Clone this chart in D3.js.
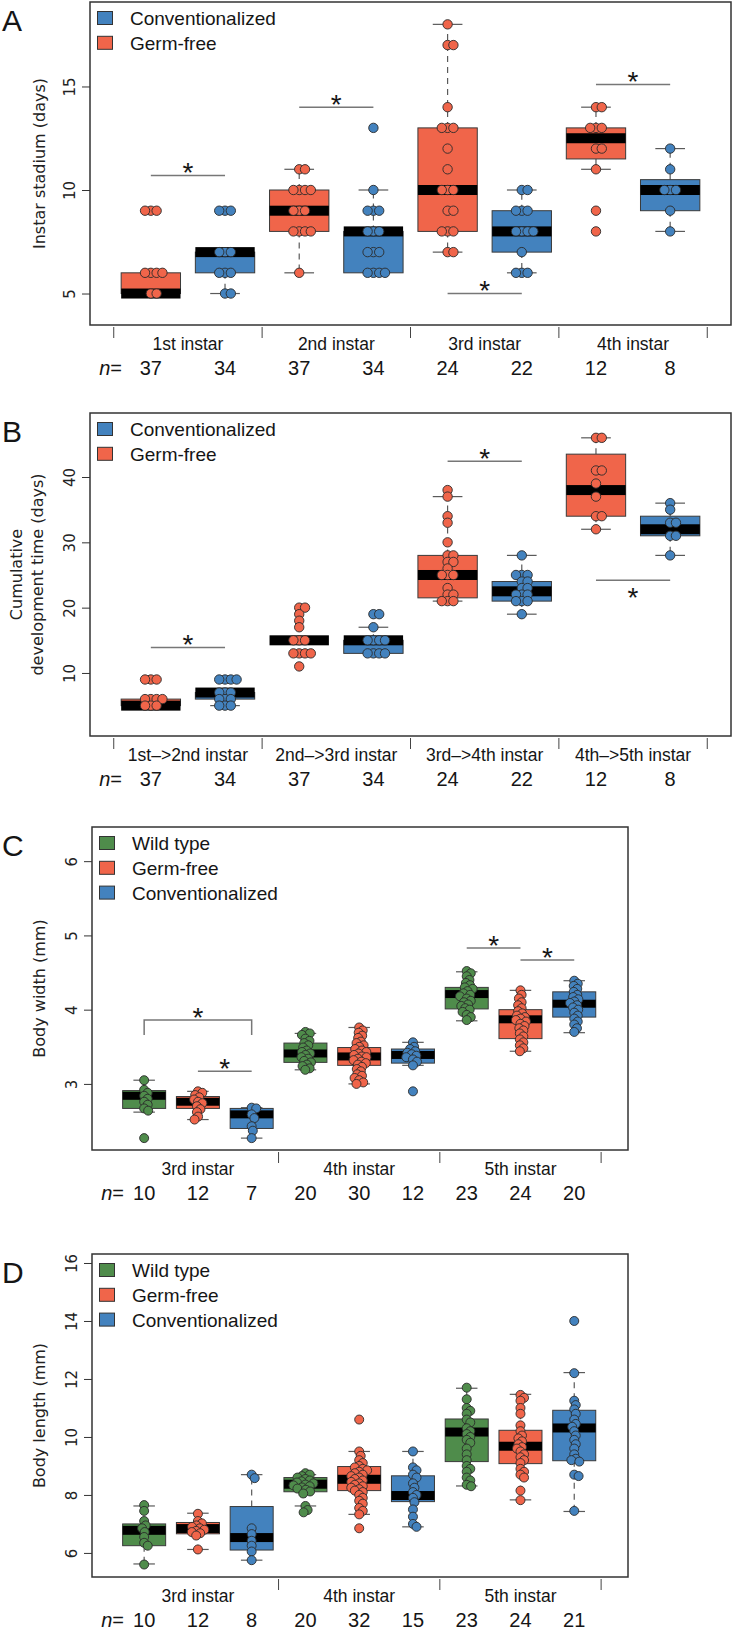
<!DOCTYPE html>
<html>
<head>
<meta charset="utf-8">
<script src="https://cdn.jsdelivr.net/npm/d3@7"></script>
<style>
  body { margin: 0; background: #fff; }
  svg { display: block; }
  .lbl { font-family: 'Liberation Sans', Arial, sans-serif; fill: #151515; }
  .ax { font-family: 'DejaVu Sans', sans-serif; fill: #222; }
</style>
</head>
<body>
<svg id="chart" width="733" height="1630"></svg>
<script>
var colors = {wt: '#4f8c4b', gf: '#f0654a', conv: '#4382be'};
var names = {wt: 'Wild type', gf: 'Germ-free', conv: 'Conventionalized'};

// Panel A - instar stadium
var catsA = ['1st instar', '2nd instar', '3rd instar', '4th instar'];
var groupsA = ['gf', 'conv', 'gf', 'conv', 'gf', 'conv', 'gf', 'conv'];
var nA = [37, 34, 37, 34, 24, 22, 12, 8];
// [lower whisker, q1, median, q3, upper whisker]
var statsA = [
  [5, 5, 5, 6, 6], [5, 6, 7, 7, 7],
  [6, 8, 9, 10, 11], [6, 6, 8, 8, 10],
  [7, 8, 10, 13, 18], [6, 7, 8, 9, 10],
  [11, 11.5, 12.5, 13, 14], [8, 9, 10, 10.5, 12]
];
var pointsA = [
  [9, 9, 9, 6, 6, 6, 6, 5, 5],
  [9, 9, 9, 7, 7, 7, 6, 6, 6, 5, 5],
  [11, 11, 10, 10, 10, 10, 9, 9, 9, 8, 8, 8, 8, 6],
  [13, 10, 9, 9, 9, 8, 8, 8, 7, 7, 7, 6, 6, 6, 6],
  [18, 17, 17, 14, 13, 13, 13, 12, 11, 10, 10, 10, 9, 9, 8, 8, 8, 7, 7],
  [10, 10, 9, 9, 9, 8, 8, 8, 8, 7, 6, 6, 6],
  [14, 14, 13, 13, 13, 12, 12, 11, 9, 8],
  [12, 11, 10, 10, 10, 9, 8]
];
var sigA = [
  {from: 1, to: 2, y: 10.7, star: 'above'},
  {from: 3, to: 4, y: 14, star: 'above'},
  {from: 5, to: 6, y: 5.0, star: 'above'},
  {from: 7, to: 8, y: 15.1, star: 'above'}
];

// Panel B - cumulative development time
var catsB = ['1st\u2013>2nd instar', '2nd\u2013>3rd instar', '3rd\u2013>4th instar', '4th\u2013>5th instar'];
var groupsB = ['gf', 'conv', 'gf', 'conv', 'gf', 'conv', 'gf', 'conv'];
var nB = [37, 34, 37, 34, 24, 22, 12, 8];
var statsB = [
  [5, 5, 5, 6, 6], [5, 6, 7, 7, 7],
  [15, 15, 15, 15, 15], [13, 13, 15, 15, 17],
  [21, 21.5, 25, 28, 37], [19, 21, 22.5, 24, 28],
  [32, 34, 38, 43.5, 46], [28, 31, 32, 34, 36]
];
var pointsB = [
  [9, 9, 9, 6, 6, 6, 6, 5, 5, 5],
  [9, 9, 9, 9, 7, 7, 7, 6, 6, 6, 5, 5, 5],
  [20, 20, 19, 18, 17, 15, 15, 15, 13, 13, 13, 13, 11],
  [19, 19, 17, 15, 15, 15, 15, 13, 13, 13, 13],
  [38, 37, 34, 33, 30, 28, 28, 27, 27, 26, 25, 25, 25, 23, 22, 22, 21, 21, 21],
  [28, 25, 25, 25, 24, 24, 23, 23, 22, 22, 22, 21, 21, 21, 19],
  [46, 46, 41, 41, 39, 37, 34, 34, 32],
  [36, 35, 33, 33, 31, 31, 28]
];
var sigB = [
  {from: 1, to: 2, y: 13.9, star: 'above'},
  {from: 5, to: 6, y: 42.4, star: 'above'},
  {from: 7, to: 8, y: 24.2, star: 'below'}
];

// Panel C - body width
var catsC = ['3rd instar', '4th instar', '5th instar'];
var groupsC = ['wt', 'gf', 'conv', 'wt', 'gf', 'conv', 'wt', 'gf', 'conv'];
var nC = [10, 12, 7, 20, 30, 12, 23, 24, 20];
var statsC = [
  [2.62, 2.67, 2.84, 2.91, 3.05], [2.52, 2.67, 2.76, 2.83, 2.9], [2.27, 2.4, 2.59, 2.67, 2.68],
  [3.19, 3.29, 3.41, 3.55, 3.68], [3.0, 3.25, 3.37, 3.49, 3.76], [3.25, 3.28, 3.39, 3.47, 3.56],
  [3.85, 4.01, 4.21, 4.3, 4.51], [3.44, 3.61, 3.87, 4.0, 4.26], [3.69, 3.9, 4.08, 4.24, 4.39]
];
var pointsC = [
  [3.05, 2.92, 2.88, 2.84, 2.8, 2.76, 2.72, 2.67, 2.64, 2.27],
  [2.9, 2.88, 2.85, 2.82, 2.79, 2.76, 2.74, 2.7, 2.66, 2.62, 2.56, 2.52],
  [2.68, 2.67, 2.59, 2.54, 2.43, 2.37, 2.27],
  [3.7, 3.68, 3.66, 3.61, 3.58, 3.55, 3.52, 3.49, 3.45, 3.43, 3.41, 3.39, 3.36, 3.34, 3.31, 3.29, 3.26, 3.24, 3.21, 3.19],
  [3.76, 3.72, 3.69, 3.65, 3.62, 3.57, 3.55, 3.52, 3.5, 3.47, 3.45, 3.43, 3.41, 3.39, 3.37, 3.36, 3.34, 3.32, 3.3, 3.28,
   3.26, 3.23, 3.2, 3.17, 3.13, 3.11, 3.08, 3.05, 3.02, 3.0],
  [3.56, 3.5, 3.47, 3.44, 3.42, 3.4, 3.38, 3.36, 3.33, 3.3, 3.25, 2.9],
  [4.52, 4.49, 4.45, 4.4, 4.36, 4.33, 4.3, 4.28, 4.25, 4.22, 4.2, 4.18, 4.15, 4.12, 4.1, 4.07, 4.05, 4.02, 4.0, 3.97,
   3.93, 3.9, 3.86],
  [4.26, 4.2, 4.15, 4.1, 4.06, 4.02, 3.98, 3.95, 3.92, 3.9, 3.88, 3.86, 3.84, 3.81, 3.78, 3.75, 3.72, 3.68, 3.64, 3.6,
   3.56, 3.52, 3.48, 3.44],
  [4.39, 4.35, 4.32, 4.28, 4.24, 4.2, 4.17, 4.14, 4.11, 4.09, 4.06, 4.03, 4.0, 3.96, 3.92, 3.88, 3.84, 3.8, 3.75, 3.7]
];
var sigC = [
  {from: 1, to: 3, y: 3.86, legY: 3.66, star: 'above'},
  {from: 2, to: 3, y: 3.17, star: 'above'},
  {from: 7, to: 8, y: 4.83, star: 'above'},
  {from: 8, to: 9, y: 4.67, star: 'above'}
];

// Panel D - body length
var catsD = ['3rd instar', '4th instar', '5th instar'];
var groupsD = ['wt', 'gf', 'conv', 'wt', 'gf', 'conv', 'wt', 'gf', 'conv'];
var nD = [10, 12, 8, 20, 32, 15, 23, 24, 21];
var statsD = [
  [5.62, 6.25, 6.78, 7.0, 7.62], [6.12, 6.66, 6.84, 7.05, 7.37], [5.75, 6.1, 6.53, 7.6, 8.7],
  [7.62, 8.11, 8.37, 8.6, 8.7], [7.33, 8.15, 8.54, 8.98, 9.5], [6.9, 7.77, 7.98, 8.66, 9.5],
  [8.31, 9.15, 10.17, 10.62, 11.68], [7.83, 9.08, 9.68, 10.23, 11.47], [7.43, 9.18, 10.31, 10.92, 12.22]
];
var pointsD = [
  [7.65, 7.45, 7.1, 6.95, 6.85, 6.72, 6.55, 6.35, 6.25, 5.6],
  [7.35, 7.1, 7.02, 6.95, 6.9, 6.85, 6.8, 6.76, 6.72, 6.68, 6.6, 6.12],
  [8.7, 8.58, 6.85, 6.65, 6.42, 6.25, 6.05, 5.75],
  [8.75, 8.7, 8.65, 8.6, 8.55, 8.5, 8.47, 8.43, 8.4, 8.36, 8.33, 8.3, 8.26, 8.22, 8.18, 8.12, 8.05, 7.62, 7.48, 7.4],
  [10.6, 9.5, 9.35, 9.2, 9.1, 9.0, 8.95, 8.9, 8.85, 8.8, 8.75, 8.7, 8.65, 8.6, 8.55, 8.5, 8.45, 8.4, 8.35, 8.3,
   8.25, 8.2, 8.15, 8.1, 8.0, 7.9, 7.8, 7.7, 7.55, 7.45, 7.33, 6.85],
  [9.5, 8.95, 8.85, 8.7, 8.6, 8.4, 8.25, 8.1, 8.0, 7.9, 7.75, 7.5, 7.25, 7.0, 6.9],
  [11.7, 11.3, 11.0, 10.9, 10.8, 10.6, 10.5, 10.3, 10.2, 10.1, 10.0, 9.9, 9.8, 9.6, 9.4, 9.2, 9.0, 8.9, 8.8, 8.6,
   8.5, 8.35, 8.3],
  [11.45, 11.35, 11.25, 11.0, 10.8, 10.4, 10.2, 10.05, 9.95, 9.85, 9.75, 9.65, 9.6, 9.5, 9.4, 9.3, 9.2, 9.1, 8.9, 8.8,
   8.7, 8.6, 8.15, 7.82],
  [14.0, 12.2, 11.25, 11.1, 10.95, 10.8, 10.6, 10.45, 10.35, 10.2, 10.05, 9.9, 9.75, 9.6, 9.4, 9.25, 9.2, 9.15, 8.7, 8.65,
   7.45]
];
var sigD = [];

var svg = d3.select('#chart');

// simple beeswarm: each point goes to the smallest offset that keeps it minD away from the others
function swarm(vals, y, minD) {
  var placed = [];
  return vals.map(function(v) {
    var py = y(v);
    var cands = [0];
    placed.forEach(function(p) {
      var dy = Math.abs(p.y - py);
      if (dy < minD) {
        var dx = Math.sqrt(minD * minD - dy * dy);
        cands.push(p.x + dx, p.x - dx);
      }
    });
    cands.sort(function(a, b) { return Math.abs(a) - Math.abs(b) || b - a; });
    var x = cands.find(function(c) {
      return placed.every(function(p) {
        var dx = p.x - c, dy = p.y - py;
        return dx * dx + dy * dy >= minD * minD - 0.01;
      });
    });
    placed.push({x: x, y: py});
    return {v: v, dx: x};
  });
}

function drawPanel(o) {
  var f = o.frame;
  var x = d3.scaleLinear().domain(o.xDom).range([f.l, f.r]);
  var y = d3.scaleLinear().domain(o.yDom).range([f.b, f.t]);
  var g = svg.append('g');
  var bw = (x(1) - x(0)) * 0.8;
  var medH = o.medH;

  var idx = d3.range(o.groups.length);

  // whiskers
  idx.forEach(function(i) {
    var s = o.stats[i], cx = x(i + 1);
    [[s[3], s[4]], [s[1], s[0]]].forEach(function(w) {
      if (Math.abs(w[1] - w[0]) < 1e-9) return;
      g.append('line')
        .attr('x1', cx).attr('x2', cx)
        .attr('y1', y(w[0])).attr('y2', y(w[1]))
        .attr('stroke', '#5a5a5a').attr('stroke-width', 1.2)
        .attr('stroke-dasharray', '6,5');
      g.append('line')
        .attr('x1', cx - bw / 4).attr('x2', cx + bw / 4)
        .attr('y1', y(w[1])).attr('y2', y(w[1]))
        .attr('stroke', '#5a5a5a').attr('stroke-width', 1.2);
    });
  });

  // boxes
  g.selectAll('rect.box').data(idx).enter().append('rect')
    .attr('class', 'box')
    .attr('x', function(i) { return x(i + 1) - bw / 2; })
    .attr('width', bw)
    .attr('y', function(i) { return y(o.stats[i][3]); })
    .attr('height', function(i) { return y(o.stats[i][1]) - y(o.stats[i][3]); })
    .attr('fill', function(i) { return colors[o.groups[i]]; })
    .attr('stroke', '#3a3a3a').attr('stroke-width', 1);

  // medians
  g.selectAll('rect.med').data(idx).enter().append('rect')
    .attr('class', 'med')
    .attr('x', function(i) { return x(i + 1) - bw / 2; })
    .attr('width', bw)
    .attr('y', function(i) { return y(o.stats[i][2]) - medH / 2; })
    .attr('height', medH)
    .attr('fill', '#000');

  // points
  idx.forEach(function(i) {
    var pts = swarm(o.points[i], y, o.minD);
    g.append('g').selectAll('circle').data(pts).enter().append('circle')
      .attr('cx', function(d) { return x(i + 1) + d.dx; })
      .attr('cy', function(d) { return y(d.v); })
      .attr('r', o.r)
      .attr('fill', colors[o.groups[i]])
      .attr('stroke', '#2a2a2a').attr('stroke-width', 0.9);
  });

  // significance marks
  o.sig.forEach(function(s) {
    var ly = y(s.y);
    if (s.legY != null) {
      g.append('path')
        .attr('d', 'M' + x(s.from) + ',' + y(s.legY) + 'V' + ly + 'H' + x(s.to) + 'V' + y(s.legY))
        .attr('fill', 'none').attr('stroke', '#777').attr('stroke-width', 1.5);
    } else {
      g.append('line')
        .attr('x1', x(s.from)).attr('x2', x(s.to))
        .attr('y1', ly).attr('y2', ly)
        .attr('stroke', '#777').attr('stroke-width', 1.5);
    }
    g.append('text').attr('class', 'lbl')
      .attr('x', (x(s.from) + x(s.to)) / 2)
      .attr('y', s.star === 'above' ? ly - 10 : ly + 10)
      .attr('dy', '0.6em')
      .attr('text-anchor', 'middle')
      .style('font-size', '28px')
      .text('*');
  });

  // frame
  g.append('rect')
    .attr('x', f.l).attr('y', f.t)
    .attr('width', f.r - f.l).attr('height', f.b - f.t)
    .attr('fill', 'none').attr('stroke', '#333').attr('stroke-width', 1.5);

  // y axis
  var yAxis = d3.axisLeft(y).tickValues(o.yTicks).tickSize(8).tickFormat(d3.format('d'));
  var ya = g.append('g').attr('transform', 'translate(' + f.l + ',0)').call(yAxis);
  ya.select('.domain').remove();
  ya.selectAll('.tick line').attr('stroke', '#333');
  ya.selectAll('.tick text')
    .attr('class', 'ax')
    .attr('x', null).attr('dy', null)
    .attr('transform', 'translate(-15,0) rotate(-90)')
    .attr('text-anchor', 'middle')
    .style('font-size', '15px');

  var midY = (f.t + f.b) / 2;
  o.title.forEach(function(t, k) {
    var bx = o.title.length === 1 ? 45 : (k === 0 ? 22 : 43);
    g.append('text').attr('class', 'ax')
      .attr('transform', 'translate(' + bx + ',' + midY + ') rotate(-90)')
      .attr('text-anchor', 'middle')
      .style('font-size', '16px')
      .text(t);
  });

  // x group separators
  g.selectAll('line.sep').data(o.seps).enter().append('line')
    .attr('x1', function(d) { return x(d); }).attr('x2', function(d) { return x(d); })
    .attr('y1', f.b + 2).attr('y2', f.b + 13)
    .attr('stroke', '#444').attr('stroke-width', 1);

  var k = o.groups.length / o.cats.length;
  g.selectAll('text.cat').data(o.cats).enter().append('text')
    .attr('class', 'lbl')
    .attr('x', function(d, j) { return x(j * k + (k + 1) / 2); })
    .attr('y', f.b + 25)
    .attr('text-anchor', 'middle')
    .style('font-size', '17.5px')
    .text(function(d) { return d; });

  var nl = g.append('text').attr('class', 'lbl')
    .attr('x', f.l + 32).attr('y', f.b + 50)
    .attr('text-anchor', 'end')
    .style('font-size', '20px');
  nl.append('tspan').style('font-style', 'italic').text('n');
  nl.append('tspan').text('=');

  g.selectAll('text.n').data(o.n).enter().append('text')
    .attr('class', 'lbl')
    .attr('x', function(d, i) { return x(i + 1); })
    .attr('y', f.b + 50)
    .attr('text-anchor', 'middle')
    .style('font-size', '20px')
    .text(function(d) { return d; });

  // legend
  o.legend.forEach(function(key, j) {
    var by = f.t + 23 + j * 24.8;
    g.append('rect')
      .attr('x', f.l + 7.5).attr('y', by - 13.5)
      .attr('width', 15).attr('height', 13)
      .attr('fill', colors[key]).attr('stroke', '#333').attr('stroke-width', 1);
    g.append('text').attr('class', 'lbl')
      .attr('x', f.l + 40).attr('y', by)
      .style('font-size', '19px')
      .text(names[key]);
  });

  // panel letter
  g.append('text').attr('class', 'lbl')
    .attr('x', 2).attr('y', f.t + 29)
    .style('font-size', '30px')
    .text(o.letter);
}

drawPanel({
  letter: 'A', frame: {l: 90, r: 731, t: 2, b: 325},
  xDom: [0.18, 8.82], yDom: [3.48, 19.08], yTicks: [5, 10, 15],
  title: ['Instar stadium (days)'], seps: [0.5, 2.5, 4.5, 6.5, 8.5],
  cats: catsA, groups: groupsA, n: nA, stats: statsA, points: pointsA, sig: sigA,
  legend: ['conv', 'gf'], medH: 10, r: 4.7, minD: 5.8
});

drawPanel({
  letter: 'B', frame: {l: 90, r: 731, t: 413, b: 736},
  xDom: [0.18, 8.82], yDom: [0.35, 49.8], yTicks: [10, 20, 30, 40],
  title: ['Cumulative', 'development time (days)'], seps: [0.5, 2.5, 4.5, 6.5, 8.5],
  cats: catsB, groups: groupsB, n: nB, stats: statsB, points: pointsB, sig: sigB,
  legend: ['conv', 'gf'], medH: 10, r: 4.7, minD: 5.8
});

drawPanel({
  letter: 'C', frame: {l: 92, r: 628, t: 827, b: 1150},
  xDom: [0.03, 10.0], yDom: [2.11, 6.46], yTicks: [3, 4, 5, 6],
  title: ['Body width (mm)'], seps: [3.5, 6.5, 9.5],
  cats: catsC, groups: groupsC, n: nC, stats: statsC, points: pointsC, sig: sigC,
  legend: ['wt', 'gf', 'conv'], medH: 8, r: 4.5, minD: 4.6
});

drawPanel({
  letter: 'D', frame: {l: 92, r: 628, t: 1254, b: 1577},
  xDom: [0.03, 10.0], yDom: [5.17, 16.31], yTicks: [6, 8, 10, 12, 14, 16],
  title: ['Body length (mm)'], seps: [3.5, 6.5, 9.5],
  cats: catsD, groups: groupsD, n: nD, stats: statsD, points: pointsD, sig: sigD,
  legend: ['wt', 'gf', 'conv'], medH: 9, r: 4.5, minD: 4.6
});
</script>
</body>
</html>
